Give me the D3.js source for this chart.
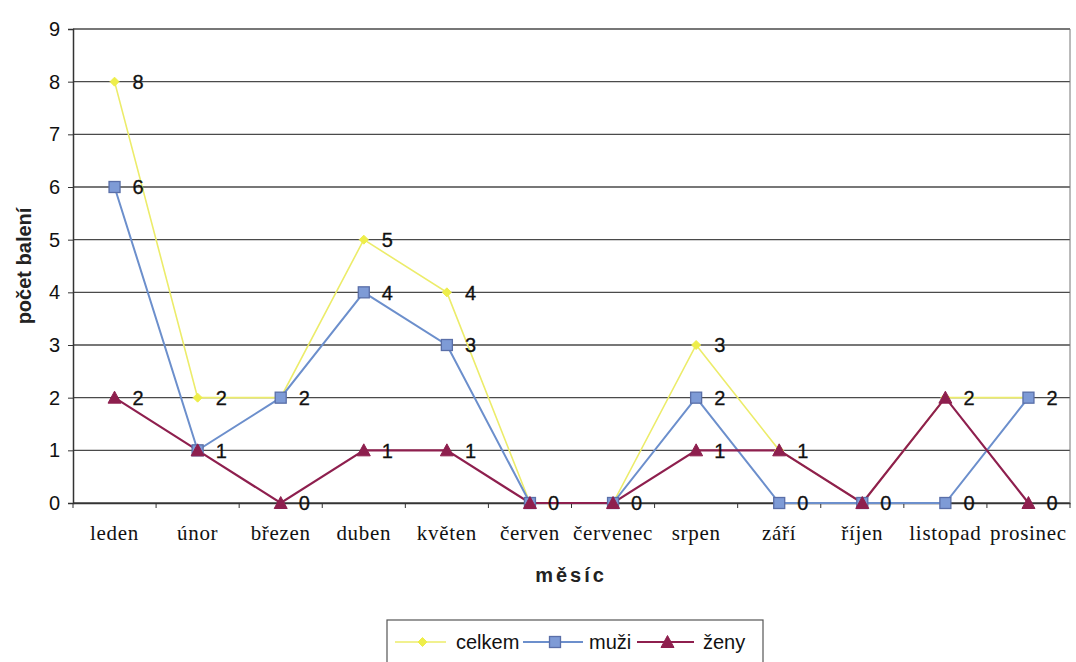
<!DOCTYPE html>
<html>
<head>
<meta charset="utf-8">
<script src="https://cdn.jsdelivr.net/npm/d3@7/dist/d3.min.js"></script>
<style>
  html, body { margin: 0; padding: 0; background: #fff; }
  svg { display: block; }
</style>
</head>
<body>
<svg id="chart" width="1076" height="662"></svg>
<script>
// Monthly counts of packages (počet balení)
const months = ["leden", "únor", "březen", "duben", "květen", "červen",
                "červenec", "srpen", "září", "říjen", "listopad", "prosinec"];
const celkem = [8, 2, 2, 5, 4, 0, 0, 3, 1, 0, 2, 2];
const muzi   = [6, 1, 2, 4, 3, 0, 0, 2, 0, 0, 0, 2];
const zeny   = [2, 1, 0, 1, 1, 0, 0, 1, 1, 0, 2, 0];
const yTicks = [0, 1, 2, 3, 4, 5, 6, 7, 8, 9];

const series = [
  { name: "celkem", values: celkem, color: "#eeee4a", marker: "diamond",  stroke: "#ecec6a", width: 1.6 },
  { name: "muži",   values: muzi,   color: "#6c8fcc", marker: "square",   stroke: "#6c8fcc", width: 2 },
  { name: "ženy",   values: zeny,   color: "#8e1f4e", marker: "triangle", stroke: "#8e1f4e", width: 2.2 }
];

const sans = "Liberation Sans, Arial, sans-serif";
const serif = "Liberation Serif, Times New Roman, serif";

const svg = d3.select("#chart");
const plot = { left: 73, right: 1070, top: 29, bottom: 503 };

const x = d3.scaleBand().domain(months).range([plot.left, plot.right]).padding(0);
const y = d3.scaleLinear().domain([0, 9]).range([plot.bottom, plot.top]);
const cx = m => x(m) + x.bandwidth() / 2;

// Horizontal gridlines
svg.append("g").selectAll("line").data(yTicks).join("line")
  .attr("x1", plot.left).attr("x2", plot.right)
  .attr("y1", d => y(d)).attr("y2", d => y(d))
  .attr("stroke", "#4a4a4a").attr("stroke-width", 1.3);

// Right border of the plot area
svg.append("line")
  .attr("x1", plot.right).attr("x2", plot.right)
  .attr("y1", plot.top).attr("y2", plot.bottom)
  .attr("stroke", "#777").attr("stroke-width", 1);

// Y axis
const yAxis = svg.append("g")
  .attr("transform", `translate(${plot.left},0)`)
  .call(d3.axisLeft(y).tickValues(yTicks).tickSize(5).tickPadding(8).tickFormat(d3.format("d")));
yAxis.select(".domain").attr("stroke", "#333").attr("stroke-width", 1.5);
yAxis.selectAll(".tick line").attr("stroke", "#333");
yAxis.selectAll("text")
  .attr("font-family", sans)
  .attr("font-size", 20).attr("fill", "#111");

// X axis
const xAxis = svg.append("g")
  .attr("transform", `translate(0,${plot.bottom})`)
  .call(d3.axisBottom(x).tickSize(0).tickPadding(22));
xAxis.select(".domain").attr("stroke", "#333").attr("stroke-width", 1.5);
xAxis.selectAll("text")
  .attr("font-family", serif)
  .attr("font-size", 21).attr("letter-spacing", 0.7).attr("fill", "#111");
// Tick marks between categories
svg.append("g").selectAll("line").data(d3.range(months.length + 1)).join("line")
  .attr("x1", i => plot.left + i * x.bandwidth())
  .attr("x2", i => plot.left + i * x.bandwidth())
  .attr("y1", plot.bottom).attr("y2", plot.bottom + 5)
  .attr("stroke", "#333");

// Axis titles
svg.append("text")
  .attr("transform", `translate(31,${266}) rotate(-90)`)
  .attr("text-anchor", "middle")
  .attr("font-family", sans)
  .attr("font-size", 20).attr("font-weight", "bold").attr("fill", "#222")
  .text("počet balení");
svg.append("text")
  .attr("x", 571).attr("y", 582)
  .attr("text-anchor", "middle")
  .attr("font-family", sans)
  .attr("font-size", 20).attr("font-weight", "bold").attr("fill", "#222")
  .attr("letter-spacing", 3)
  .text("měsíc");

// Marker drawing helper
function drawMarker(g, type, color) {
  if (type === "diamond") {
    g.append("path").attr("d", "M0,-4.5L4.5,0L0,4.5L-4.5,0Z").attr("fill", color).attr("stroke", color);
  } else if (type === "square") {
    g.append("rect").attr("x", -5.5).attr("y", -5.5).attr("width", 11).attr("height", 11)
      .attr("fill", "#7e9bd6").attr("stroke", "#5a6fa8").attr("stroke-width", 1.3);
  } else {
    g.append("path").attr("d", "M0,-6.5L6.5,5.5L-6.5,5.5Z").attr("fill", color).attr("stroke", color);
  }
}

const line = d3.line().x((d, i) => cx(months[i])).y(d => y(d));

// Lines
series.forEach(s => {
  svg.append("path").datum(s.values)
    .attr("d", line).attr("fill", "none")
    .attr("stroke", s.stroke).attr("stroke-width", s.width);
});
// Markers
series.forEach(s => {
  s.values.forEach((v, i) => {
    const g = svg.append("g").attr("transform", `translate(${cx(months[i])},${y(v)})`);
    drawMarker(g, s.marker, s.color);
  });
});
// Value labels; a value shared by several series at one month is written once
const labelled = new Set();
const labels = [];
series.forEach(s => {
  s.values.forEach((v, i) => {
    const key = i + ":" + v;
    if (!labelled.has(key)) { labelled.add(key); labels.push({ i, v }); }
  });
});
svg.append("g").selectAll("text").data(labels).join("text")
  .attr("x", d => cx(months[d.i]) + 18)
  .attr("y", d => y(d.v))
  .attr("dy", "0.36em")
  .attr("font-family", sans)
  .attr("font-size", 20).attr("fill", "#111")
  .attr("stroke", "#111").attr("stroke-width", 0.3)
  .text(d => d.v);

// Legend
const legend = svg.append("g");
legend.append("rect").attr("x", 387).attr("y", 620).attr("width", 376).attr("height", 52)
  .attr("fill", "#fff").attr("stroke", "#555").attr("stroke-width", 1.2);
const legendItems = [
  { s: series[0], x0: 395, x1: 450, tx: 456 },
  { s: series[1], x0: 523, x1: 587, tx: 589 },
  { s: series[2], x0: 637, x1: 698, tx: 703 }
];
legendItems.forEach(it => {
  const ly = 642;
  legend.append("line").attr("x1", it.x0).attr("x2", it.x1 - 4).attr("y1", ly).attr("y2", ly)
    .attr("stroke", it.s.stroke).attr("stroke-width", it.s.width);
  drawMarker(legend.append("g").attr("transform", `translate(${(it.x0 + it.x1) / 2},${ly})`), it.s.marker, it.s.color);
  legend.append("text").attr("x", it.tx).attr("y", ly).attr("dy", "0.35em")
    .attr("font-family", sans)
    .attr("font-size", 20).attr("fill", "#111")
    .text(it.s.name);
});
</script>
</body>
</html>
